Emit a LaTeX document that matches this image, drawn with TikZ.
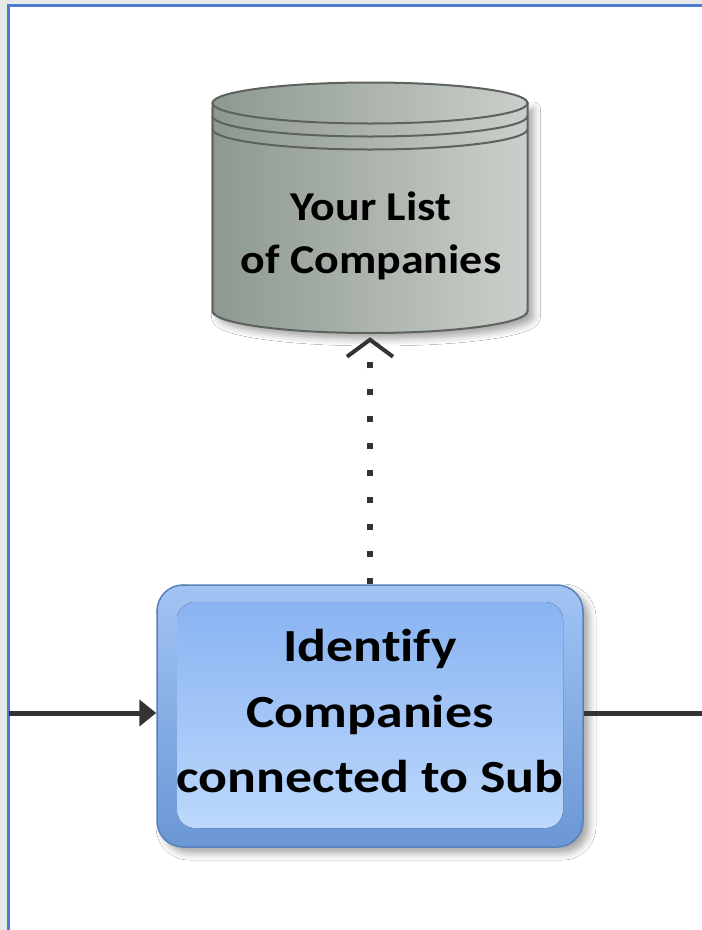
\documentclass[tikz,border=0pt]{standalone}
\usepackage{fontspec}
\newfontfamily\dbfont[FakeStretch=1.12,Ligatures=NoCommon]{Carlito}
\newfontfamily\stepfont[FakeStretch=1.17,Ligatures=NoCommon]{Carlito}
\usetikzlibrary{arrows.meta,shadows.blur,calc}

\definecolor{pagegray}{HTML}{E8E8E8}
\definecolor{framebl}{HTML}{4A7BD0}
\definecolor{cylL}{HTML}{8D998E}
\definecolor{cylR}{HTML}{CBCFCB}
\definecolor{cylLine}{HTML}{5E625E}
\definecolor{boxOutTop}{HTML}{A2C4F4}
\definecolor{boxOutBot}{HTML}{6A97D5}
\definecolor{boxInTop}{HTML}{89B3F2}
\definecolor{boxInBot}{HTML}{BCD8FC}
\definecolor{boxLine}{HTML}{5A80B8}
\definecolor{conncol}{HTML}{333333}

\tikzset{
  softshadow/.style={blur shadow={shadow xshift=6pt,shadow yshift=-6pt,
      shadow blur radius=7pt,shadow opacity=35}},
  cylbody/.style={left color=cylL,right color=cylR,draw=cylLine,line width=2pt},
  cylline/.style={draw=cylLine,line width=2pt},
  stepbox/.style={rectangle,rounded corners=26pt,minimum width=426pt,
      minimum height=262pt,inner sep=0pt,top color=boxOutTop,
      bottom color=boxOutBot,draw=boxLine,line width=1.5pt},
  innerpanel/.style={rounded corners=18pt,top color=boxInTop,bottom color=boxInBot},
  dbtxt/.style={font=\dbfont\bfseries\fontsize{41}{53}\selectfont,align=center,
      text=black,inner sep=0pt},
  boxtxt/.style={font=\stepfont\bfseries\fontsize{46}{65.5}\selectfont,align=center,
      text=black,inner sep=0pt},
  flow/.style={draw=conncol,line width=5pt},
  dotlink/.style={draw=conncol,line width=6.5pt,dash pattern=on 6.5pt off 20.5pt,
      -{Straight Barb[length=17pt,width=46pt,line width=4pt]}},
}

\begin{document}
\begin{tikzpicture}[x=1pt,y=1pt]
  \useasboundingbox (0,0) rectangle (702,-930);
  % page background and frame
  \fill[pagegray] (0,0) rectangle (702,-930);
  \fill[white] (8.5,-5.5) rectangle (702,-930);
  \draw[framebl,line width=3.5pt] (8.5,-930) -- (8.5,-5.5) -- (702,-5.5);

  % database cylinder
  \path[cylbody,softshadow] (212.5,-103) -- (212.5,-311)
     arc[start angle=180,end angle=360,x radius=157.5,y radius=22]
     -- (527.5,-103) -- cycle;
  \draw[cylbody] (370,-103) ellipse [x radius=157.5,y radius=20.5];
  \draw[cylline] (212.5,-116) arc[start angle=180,end angle=360,x radius=157.5,y radius=20.5];
  \draw[cylline] (212.5,-129) arc[start angle=180,end angle=360,x radius=157.5,y radius=20.5];
  \node[inner sep=0pt,minimum width=315pt,minimum height=255pt] (db) at (370,-209.5) {};
  \node[dbtxt] (dbtext) at (371,-236) {Your List\\of Companies};

  % process step
  \node[stepbox,softshadow] (box) at (370,-716) {};
  \fill[innerpanel] (177,-602) rectangle (563,-828);
  \node[boxtxt] (boxtext) at (370,-711.5) {Identify\\Companies\\connected to Sub};

  % connectors
  \coordinate (inlet) at (8.5,-713);
  \coordinate (outlet) at (702,-713);
  \draw[flow,-{Triangle[length=17pt,width=26pt]}] (inlet) -- (inlet -| box.west);
  \draw[flow] (outlet -| box.east) -- (outlet);
  \draw[dotlink] (box.north) -- (db.south);
\end{tikzpicture}
\end{document}
